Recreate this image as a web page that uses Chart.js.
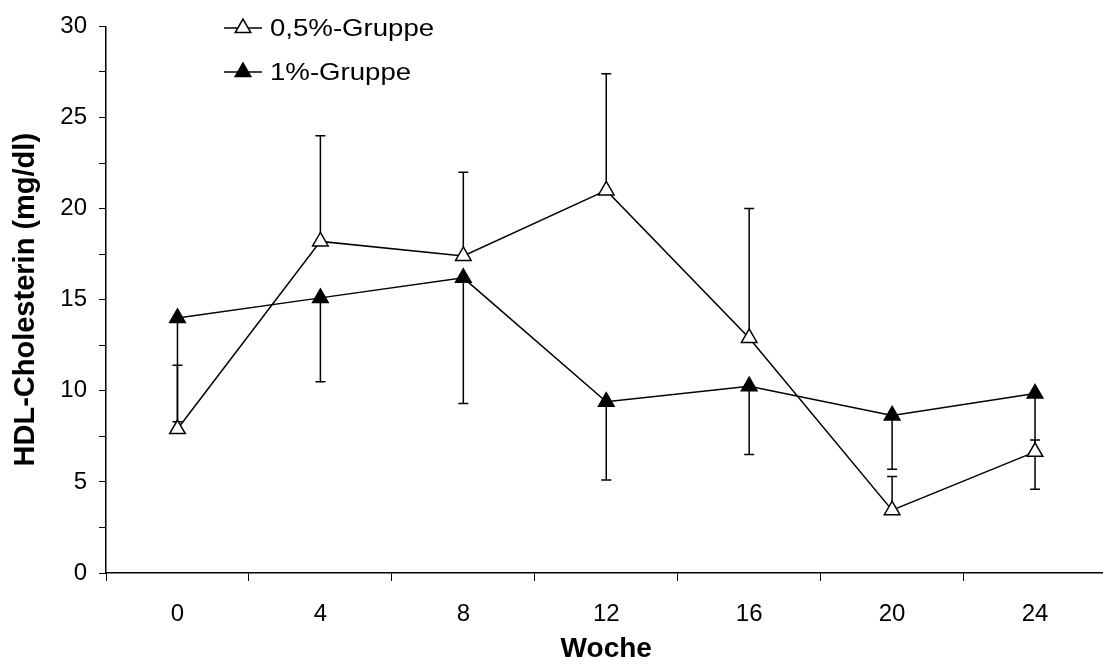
<!DOCTYPE html>
<html>
<head>
<meta charset="utf-8">
<script src="https://cdn.jsdelivr.net/npm/chart.js@4"></script>
<style>
  html, body { margin: 0; padding: 0; background: #fff; overflow: hidden; }
  #wrap { width: 1117px; height: 668px; }
</style>
</head>
<body>
<div id="wrap"><canvas id="hdl" width="1117" height="668"></canvas></div>
<script>
// HDL cholesterol per week, mean with one-sided SD bars
const weeks = ['0', '4', '8', '12', '16', '20', '24'];
const halfPct = [7.9, 18.2, 17.4, 21.0, 12.9, 3.45, 6.65];
const halfPctSd = [3.5, 5.8, 4.6, 6.4, 7.1, 1.85, 0.65];     // drawn upward
const onePct = [14.0, 15.1, 16.2, 9.4, 10.25, 8.65, 9.85];
const onePctSd = [5.7, 4.6, 6.9, 4.3, 3.75, 2.95, 5.25];     // drawn downward
const yMin = 0, yMax = 30, yStep = 2.5, yLabelEvery = 5;

Chart.defaults.font.family = '"Liberation Sans", Arial, sans-serif';
Chart.defaults.color = '#000';

const errorBars = {
  id: 'errorBars',
  beforeDatasetsDraw(chart) {
    const { ctx, scales: { x, y } } = chart;
    ctx.save();
    ctx.strokeStyle = '#000';
    ctx.lineWidth = 1.5;
    chart.data.datasets.forEach(ds => {
      ds.data.forEach((v, i) => {
        const px = x.getPixelForValue(i);
        const y0 = y.getPixelForValue(v);
        const y1 = y.getPixelForValue(v + ds.errDir * ds.err[i]);
        ctx.beginPath();
        ctx.moveTo(px, y0);
        ctx.lineTo(px, y1);
        ctx.moveTo(px - 5, y1);
        ctx.lineTo(px + 5, y1);
        ctx.stroke();
      });
    });
    ctx.restore();
  }
};

// legend in the upper left corner of the plot
const cornerLegend = {
  id: 'cornerLegend',
  afterDraw(chart) {
    const ctx = chart.ctx;
    const rows = [28, 72];
    chart.data.datasets.forEach((ds, k) => {
      const cy = rows[k];
      ctx.save();
      ctx.strokeStyle = '#000';
      ctx.lineWidth = 1.5;
      ctx.beginPath();
      ctx.moveTo(224, cy);
      ctx.lineTo(262, cy);
      ctx.stroke();
      const r = 9, cx = 243;
      ctx.beginPath();
      ctx.moveTo(cx, cy - r);
      ctx.lineTo(cx + r * Math.sin(Math.PI * 2 / 3), cy - r * Math.cos(Math.PI * 2 / 3));
      ctx.lineTo(cx + r * Math.sin(Math.PI * 4 / 3), cy - r * Math.cos(Math.PI * 4 / 3));
      ctx.closePath();
      ctx.fillStyle = ds.pointBackgroundColor;
      ctx.fill();
      ctx.stroke();
      ctx.translate(270, cy);
      ctx.scale(1.15, 1);
      ctx.fillStyle = '#000';
      ctx.font = '24px "Liberation Sans", Arial, sans-serif';
      ctx.textBaseline = 'middle';
      ctx.fillText(ds.label, 0, 1);
      ctx.restore();
    });
  }
};

new Chart(document.getElementById('hdl'), {
  type: 'line',
  data: {
    labels: weeks,
    datasets: [
      { label: '0,5%-Gruppe', data: halfPct, err: halfPctSd, errDir: 1,
        borderColor: '#000', borderWidth: 1.5, tension: 0,
        pointStyle: 'triangle', pointRadius: 9, pointBorderWidth: 1.5,
        pointBackgroundColor: '#fff', pointBorderColor: '#000' },
      { label: '1%-Gruppe', data: onePct, err: onePctSd, errDir: -1,
        borderColor: '#000', borderWidth: 1.5, tension: 0,
        pointStyle: 'triangle', pointRadius: 9, pointBorderWidth: 1.5,
        pointBackgroundColor: '#000', pointBorderColor: '#000' }
    ]
  },
  options: {
    responsive: false,
    animation: false,
    layout: { padding: { top: 26, right: 3, bottom: 0, left: 0 } },
    plugins: { legend: { display: false }, tooltip: { enabled: false } },
    scales: {
      x: {
        offset: true,
        grid: { offset: true, drawOnChartArea: false, tickLength: 8, color: '#000', lineWidth: 1 },
        border: { color: '#000', width: 1.5 },
        ticks: { font: { size: 24 }, padding: 19, maxRotation: 0 },
        title: { display: true, text: 'Woche', font: { size: 28, weight: 'bold' }, padding: { top: 0, bottom: 2 } },
        afterFit(s) { s.height = 95; }
      },
      y: {
        min: yMin, max: yMax,
        grid: { drawOnChartArea: false, tickLength: 7, color: '#000', lineWidth: 1 },
        border: { color: '#000', width: 1.5 },
        ticks: {
          stepSize: yStep, maxTicksLimit: 20, font: { size: 24 }, padding: 12,
          callback: v => (v % yLabelEvery === 0 ? v : '')
        },
        title: { display: true, text: 'HDL-Cholesterin (mg/dl)', font: { size: 29, weight: 'bold' }, padding: { top: 9, bottom: 0 } },
        afterFit(s) { s.width = 106; }
      }
    }
  },
  plugins: [errorBars, cornerLegend]
});
</script>
</body>
</html>
